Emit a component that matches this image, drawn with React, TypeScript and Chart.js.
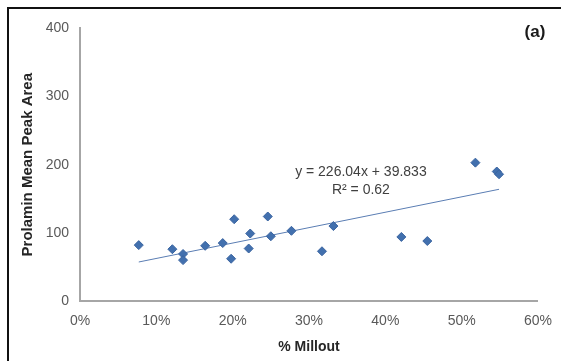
import React, { useEffect, useRef } from "react";
import { Chart, registerables } from "chart.js";

Chart.register(...registerables);

// % millout (fraction) and prolamin mean peak area for each sample
const millout = [
  0.077, 0.121, 0.135, 0.135, 0.164, 0.187, 0.198, 0.202, 0.221, 0.223,
  0.246, 0.25, 0.277, 0.317, 0.332, 0.421, 0.455, 0.518, 0.546, 0.549,
];
const peakArea = [
  82, 76, 69, 60, 81, 85, 62, 120, 77, 99, 124, 95, 103, 73, 110, 94, 88, 203,
  190, 186,
];

// Linear fit reported on the chart
const slope = 226.04;
const intercept = 39.833;
const equationText = "y = 226.04x + 39.833";
const r2Text = "R\u00b2 = 0.62";
const panelLabel = "(a)";

const xTicks = [0, 0.1, 0.2, 0.3, 0.4, 0.5, 0.6];
const yTicks = [0, 100, 200, 300, 400];

const FONT = "'Liberation Sans', Arial, sans-serif";

const annotations = {
  id: "annotations",
  afterDatasetsDraw(chart: any) {
    const { ctx, chartArea, scales } = chart;
    ctx.save();
    // regression equation
    const ex = scales.x.getPixelForValue(0.368);
    const ey = scales.y.getPixelForValue(189);
    ctx.fillStyle = "#404040";
    ctx.font = `14px ${FONT}`;
    ctx.textAlign = "center";
    ctx.textBaseline = "middle";
    ctx.fillText(equationText, ex, ey);
    ctx.fillText(r2Text, ex, ey + 18);
    // panel label
    ctx.fillStyle = "#1a1a1a";
    ctx.font = `bold 17px ${FONT}`;
    ctx.fillText(panelLabel, chartArea.right - 3, chartArea.top + 4);
    ctx.restore();
  },
};

export default function App() {
  const canvasRef = useRef<HTMLCanvasElement | null>(null);

  useEffect(() => {
    if (!canvasRef.current) return;
    const xMin = Math.min(...millout);
    const xMax = Math.max(...millout);
    const chart = new Chart(canvasRef.current, {
      type: "scatter",
      data: {
        datasets: [
          {
            label: "Prolamin",
            data: millout.map((x, i) => ({ x, y: peakArea[i] })),
            pointStyle: "rectRot",
            pointRadius: 4.5,
            backgroundColor: "#4270AE",
            borderColor: "#3A64A0",
            borderWidth: 1,
          },
          {
            label: "Linear",
            type: "line",
            data: [
              { x: xMin, y: slope * xMin + intercept },
              { x: xMax, y: slope * xMax + intercept },
            ],
            borderColor: "#5A7DB3",
            borderWidth: 1,
            pointRadius: 0,
            fill: false,
          },
        ],
      },
      options: {
        responsive: false,
        animation: false,
        layout: { padding: { left: 0, top: 19, right: 20, bottom: 0 } },
        plugins: {
          legend: { display: false },
          tooltip: { enabled: false },
        },
        scales: {
          x: {
            type: "linear",
            min: 0,
            max: 0.6,
            afterBuildTicks: (scale: any) => {
              scale.ticks = xTicks.map((v) => ({ value: v }));
            },
            afterFit: (scale: any) => {
              scale.height = 60;
            },
            grid: { color: "rgba(0,0,0,0)", drawTicks: false },
            border: { display: true, color: "#A6A6A6", width: 2 },
            ticks: {
              padding: 12,
              color: "#595959",
              font: { family: FONT, size: 14 },
              callback: (v: any) => `${Math.round(Number(v) * 100)}%`,
            },
            title: {
              display: true,
              text: "% Millout",
              color: "#262626",
              font: { family: FONT, size: 14, weight: "bold" },
              padding: { top: 0, bottom: 5 },
            },
          },
          y: {
            type: "linear",
            min: 0,
            max: 400,
            afterBuildTicks: (scale: any) => {
              scale.ticks = yTicks.map((v) => ({ value: v }));
            },
            afterFit: (scale: any) => {
              scale.width = 71;
            },
            grid: { color: "rgba(0,0,0,0)", drawTicks: false },
            border: { display: true, color: "#A6A6A6", width: 2 },
            ticks: {
              padding: 11,
              color: "#595959",
              font: { family: FONT, size: 14 },
            },
            title: {
              display: true,
              text: "Prolamin Mean Peak Area",
              color: "#262626",
              font: { family: FONT, size: 15, weight: "bold" },
              padding: { top: 10, bottom: 0 },
            },
          },
        },
      },
      plugins: [annotations],
    } as any);
    return () => chart.destroy();
  }, []);

  return (
    <div
      style={{
        position: "fixed",
        left: 7,
        top: 7,
        width: 557,
        height: 354,
        boxSizing: "border-box",
        borderLeft: "2px solid #111",
        borderTop: "2px solid #111",
        background: "#fff",
      }}
    >
      <canvas
        ref={canvasRef}
        width={555}
        height={352}
        style={{ display: "block", width: 555, height: 352 }}
      />
    </div>
  );
}
